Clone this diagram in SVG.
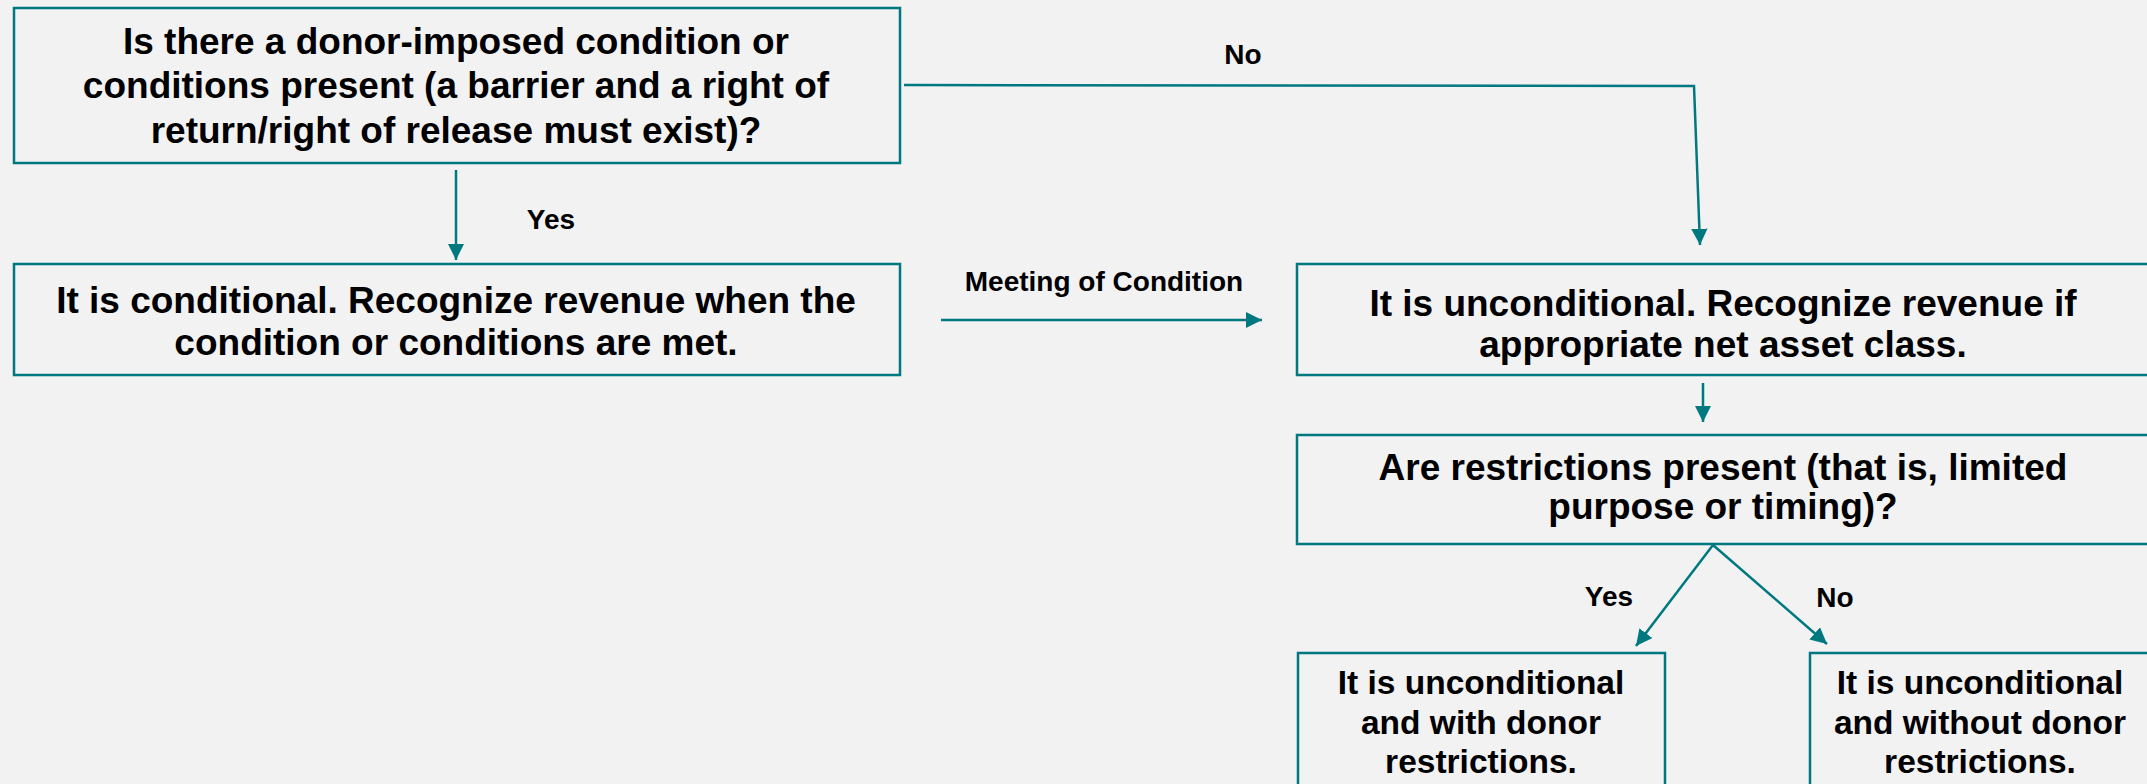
<svg xmlns="http://www.w3.org/2000/svg" width="2147" height="784" viewBox="0 0 2147 784">
<style>
.box{fill:#f2f2f2;stroke:#007880;stroke-width:2.5}
.t{font-family:"Liberation Sans",Arial,sans-serif;font-weight:bold;fill:#000;text-anchor:middle}
.big{font-size:37px}
.mid{font-size:33.5px}
.lbl{font-size:28px}
.c{fill:none;stroke:#007880;stroke-width:2.5}
</style>
<defs>
<marker id="ah" viewBox="0 0 10 10" refX="10" refY="5" markerWidth="6.5" markerHeight="6.5" markerUnits="strokeWidth" orient="auto">
<path d="M0,0 L10,5 L0,10 z" fill="#007880"/>
</marker>
</defs>
<rect width="2147" height="784" fill="#f2f2f2"/>
<g id="n1">
<rect class="box" x="14" y="8" width="886" height="155"/>
<text class="t big" x="456" y="54">Is there a donor-imposed condition or</text>
<text class="t big" x="456" y="98">conditions present (a barrier and a right of</text>
<text class="t big" x="456" y="143">return/right of release must exist)?</text>
</g>
<g id="n2">
<rect class="box" x="14" y="264" width="886" height="111"/>
<text class="t big" x="456" y="313">It is conditional. Recognize revenue when the</text>
<text class="t big" x="456" y="355">condition or conditions are met.</text>
</g>
<g id="n3">
<rect class="box" x="1297" y="264" width="860" height="111"/>
<text class="t big" x="1723" y="316">It is unconditional. Recognize revenue if</text>
<text class="t big" x="1723" y="357">appropriate net asset class.</text>
</g>
<g id="n4">
<rect class="box" x="1297" y="435" width="860" height="109"/>
<text class="t big" x="1723" y="480">Are restrictions present (that is, limited</text>
<text class="t big" x="1723" y="519">purpose or timing)?</text>
</g>
<g id="n5">
<rect class="box" x="1298" y="653" width="367" height="160"/>
<text class="t mid" x="1481" y="694">It is unconditional</text>
<text class="t mid" x="1481" y="734">and with donor</text>
<text class="t mid" x="1481" y="773">restrictions.</text>
</g>
<g id="n6">
<rect class="box" x="1810" y="653" width="347" height="160"/>
<text class="t mid" x="1980" y="694">It is unconditional</text>
<text class="t mid" x="1980" y="734">and without donor</text>
<text class="t mid" x="1980" y="773">restrictions.</text>
</g>
<g id="connectors">
<line class="c" x1="456" y1="170" x2="456" y2="260" marker-end="url(#ah)"/>
<polyline class="c" points="904,85 1694,86 1700,245" marker-end="url(#ah)"/>
<line class="c" x1="941" y1="320" x2="1262" y2="320" marker-end="url(#ah)"/>
<line class="c" x1="1703" y1="383" x2="1703" y2="422" marker-end="url(#ah)"/>
<line class="c" x1="1713" y1="545" x2="1636" y2="646" marker-end="url(#ah)"/>
<line class="c" x1="1713" y1="545" x2="1827" y2="644" marker-end="url(#ah)"/>
</g>
<g id="labels">
<text class="t lbl" x="1243" y="64">No</text>
<text class="t lbl" x="551" y="229">Yes</text>
<text class="t lbl" x="1104" y="291">Meeting of Condition</text>
<text class="t lbl" x="1609" y="606">Yes</text>
<text class="t lbl" x="1835" y="607">No</text>
</g>
</svg>
